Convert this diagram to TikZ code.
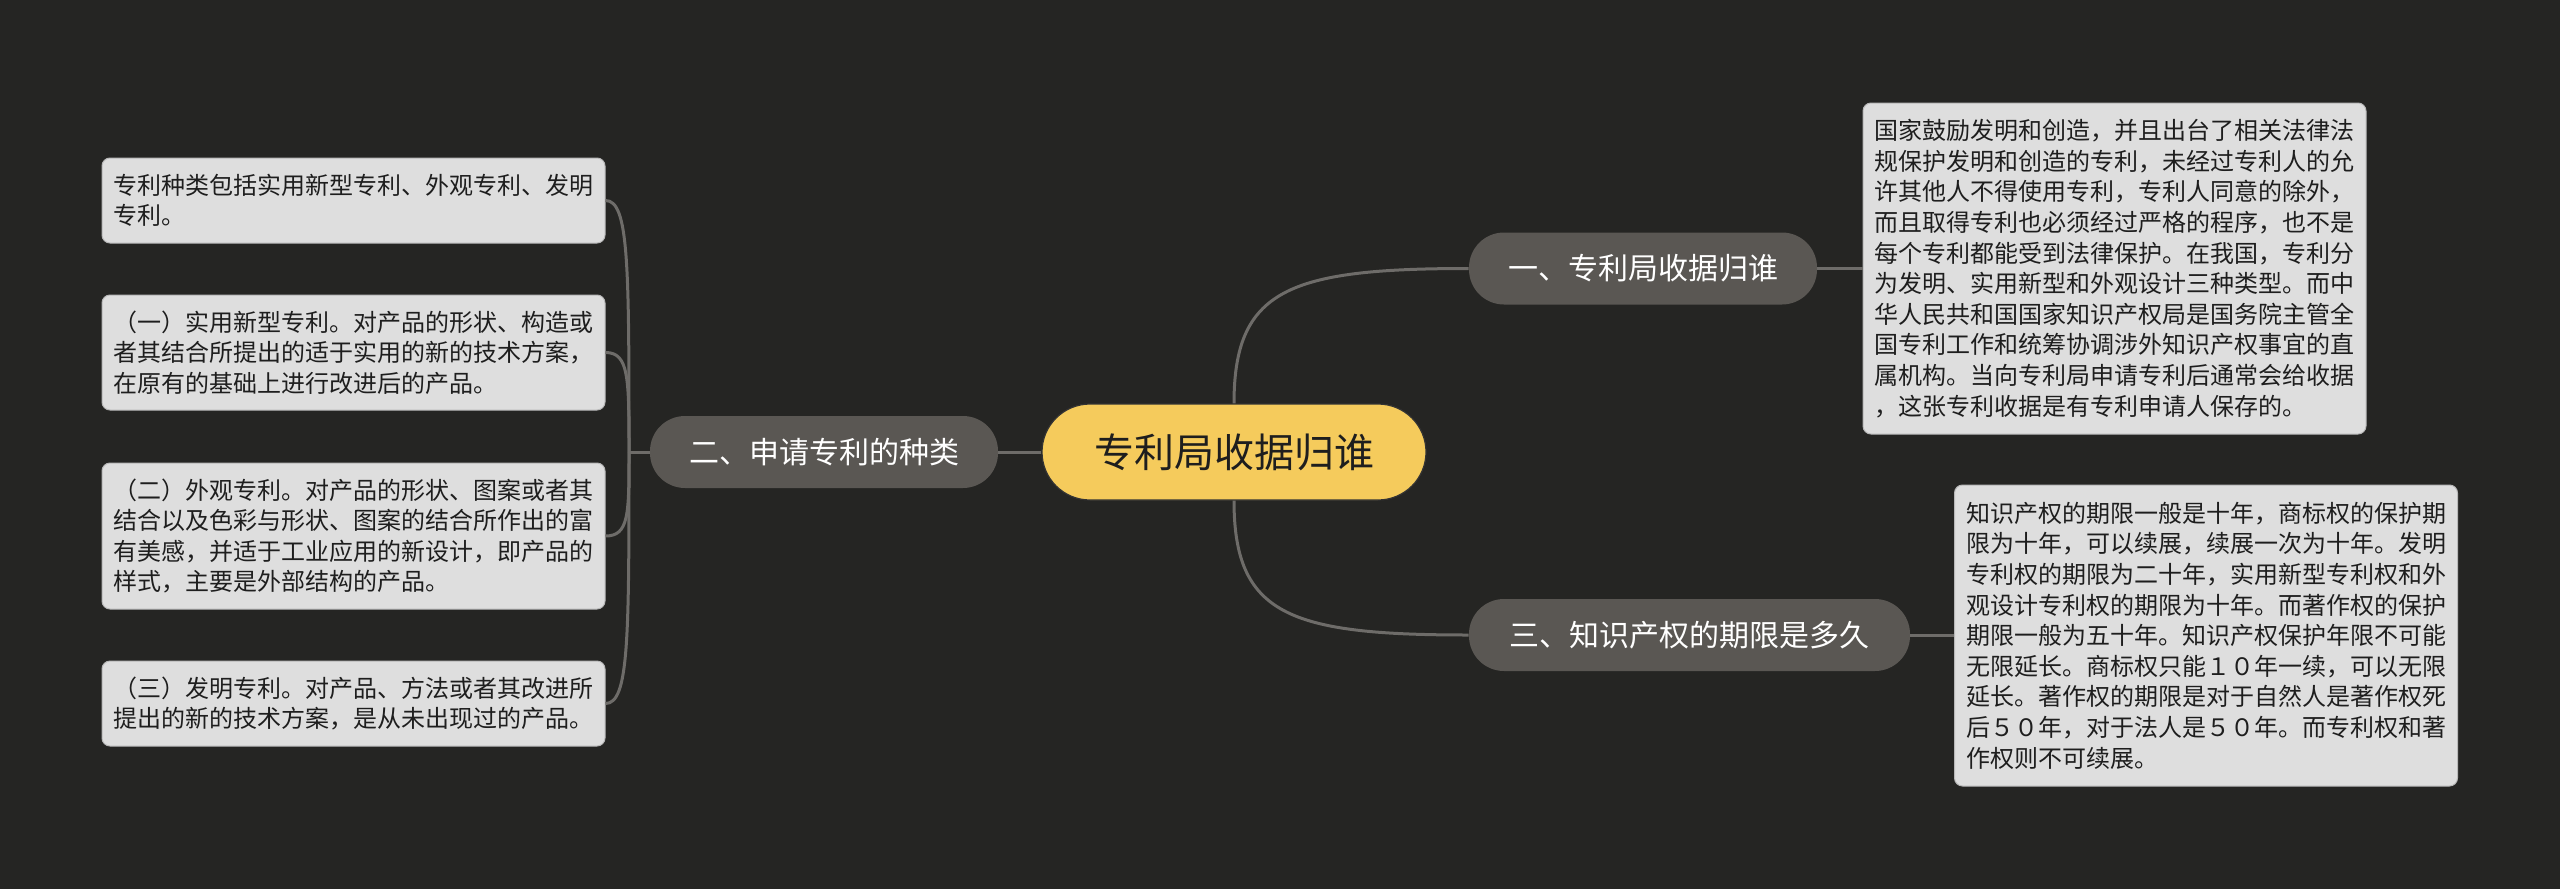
\documentclass[tikz,border=0pt]{standalone}
\usepackage{fontspec}
\usetikzlibrary{calc}
\newfontfamily\cjk{Noto Sans CJK SC}
\definecolor{bgc}{HTML}{252523}
\definecolor{branchc}{HTML}{5A5753}
\definecolor{linec}{HTML}{6E6C69}
\definecolor{rootc}{HTML}{F5CB5C}
\definecolor{boxc}{HTML}{DEDEDE}
\definecolor{boxline}{HTML}{B8B8B8}
\definecolor{txtc}{HTML}{1E1E1E}
\tikzset{
  rootnode/.style={fill=rootc, draw=black!80, line width=0.6pt, rounded corners=24pt,
    minimum width=192pt, minimum height=48pt, inner sep=0pt,
    font=\cjk\fontsize{20pt}{24pt}\selectfont, text=txtc},
  branchnode/.style={fill=branchc, rounded corners=17.5pt, minimum height=36pt,
    inner sep=0pt, font=\cjk\fontsize{15pt}{18pt}\selectfont, text=white},
  leafbox/.style={fill=boxc, draw=boxline, line width=0.5pt, rounded corners=4pt,
    minimum width=251.5pt, inner xsep=5.75pt, inner ysep=0pt, align=left,
    font=\cjk\fontsize{12pt}{15.3pt}\selectfont, text=txtc},
  conn/.style={draw=linec, line width=1.5pt}
}
\begin{document}
\begin{tikzpicture}[x=0.5pt, y=-0.5pt]
\fill[bgc] (0,0) rectangle (2560,889);
\useasboundingbox (0,0) rectangle (2560,889);

\node[rootnode] (root) at (1234,452) {专利局收据归谁};
\node[branchnode, minimum width=174pt] (b1) at (1643,268.5) {一、专利局收据归谁};
\node[branchnode, minimum width=220.5pt] (b3) at (1689.5,635) {三、知识产权的期限是多久};
\node[branchnode, minimum width=174pt] (b2) at (824,452) {二、申请专利的种类};

\node[leafbox, minimum height=165.5pt] (r1) at (2114.5,268.5) {国家鼓励发明和创造，并且出台了相关法律法\\规保护发明和创造的专利，未经过专利人的允\\许其他人不得使用专利，专利人同意的除外，\\而且取得专利也必须经过严格的程序，也不是\\每个专利都能受到法律保护。在我国，专利分\\为发明、实用新型和外观设计三种类型。而中\\华人民共和国国家知识产权局是国务院主管全\\国专利工作和统筹协调涉外知识产权事宜的直\\属机构。当向专利局申请专利后通常会给收据\\，这张专利收据是有专利申请人保存的。};
\node[leafbox, minimum height=150.5pt] (r2) at (2206,635.5) {知识产权的期限一般是十年，商标权的保护期\\限为十年，可以续展，续展一次为十年。发明\\专利权的期限为二十年，实用新型专利权和外\\观设计专利权的期限为十年。而著作权的保护\\期限一般为五十年。知识产权保护年限不可能\\无限延长。商标权只能１０年一续，可以无限\\延长。著作权的期限是对于自然人是著作权死\\后５０年，对于法人是５０年。而专利权和著\\作权则不可续展。};

\node[leafbox, minimum height=42.5pt] (lA) at (353.5,200.5) {专利种类包括实用新型专利、外观专利、发明\\专利。};
\node[leafbox, minimum height=57.5pt] (lB) at (353.5,352.5) {（一）实用新型专利。对产品的形状、构造或\\者其结合所提出的适于实用的新的技术方案，\\在原有的基础上进行改进后的产品。};
\node[leafbox, minimum height=73pt] (lC) at (353.5,536) {（二）外观专利。对产品的形状、图案或者其\\结合以及色彩与形状、图案的结合所作出的富\\有美感，并适于工业应用的新设计，即产品的\\样式，主要是外部结构的产品。};
\node[leafbox, minimum height=42.5pt] (lD) at (353.5,703.5) {（三）发明专利。对产品、方法或者其改进所\\提出的新的技术方案，是从未出现过的产品。};

% connectors
\draw[conn] (root.north) .. controls ($(root.north)+(0,-114)$) and ($(b1.west)+(-180,0)$) .. (b1.west);
\draw[conn] (root.south) .. controls ($(root.south)+(0,114)$) and ($(b3.west)+(-180,0)$) .. (b3.west);
\draw[conn] (root.west) -- (b2.east);
\draw[conn] (b1.east) -- (r1.west |- b1.east);
\draw[conn] (b3.east) -- (r2.west |- b3.east);

\coordinate (tr) at (629,452);
\draw[conn] (b2.west) -- (tr);
\foreach \lf in {lA,lB,lC,lD}{
  \draw[conn] (tr) .. controls ($(tr)!0.74!(tr |- \lf.east)$) and (tr |- \lf.east) .. (\lf.east);
}
\end{tikzpicture}
\end{document}
